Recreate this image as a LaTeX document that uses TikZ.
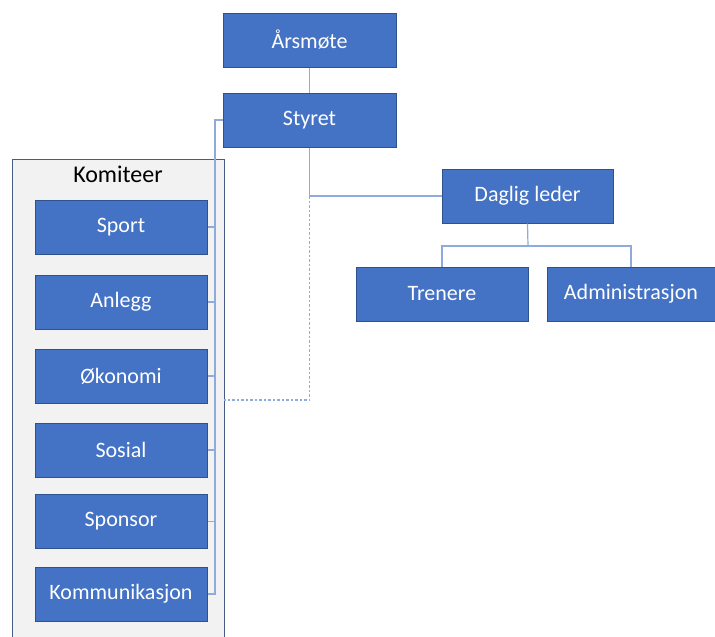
\documentclass[tikz,border=0pt]{standalone}
\usepackage{fontspec}
\setmainfont{Carlito}
\usepackage{xcolor}
\usepackage{tikz}
\definecolor{orgblue}{RGB}{68,114,196}
\definecolor{orgedge}{RGB}{47,82,143}
\definecolor{orglink}{RGB}{143,170,220}
\definecolor{framegray}{RGB}{242,242,242}
\definecolor{frameedge}{RGB}{72,92,130}

\begin{document}
\begin{tikzpicture}[x=1pt, y=-1pt,
    orgbox/.style={draw=orgedge, fill=orgblue, text=white, line width=1pt,
        minimum width=172pt, minimum height=54pt, inner sep=0pt,
        font=\fontsize{22}{26}\selectfont},
    link/.style={draw=orglink, line width=1.2pt},
    dashlink/.style={link, dash pattern=on 2.5pt off 2pt}]
    \clip (0,0) rectangle (715,637);
    % committee frame
    \node[draw=frameedge, fill=framegray, line width=1pt, minimum width=212pt,
        minimum height=491pt, inner sep=0pt] (komiteer) at (118,404.5) {};
    \node[font=\fontsize{24}{28}\selectfont, below=4pt] (komlabel) at (komiteer.north) {Komiteer};
    % top of the organisation
    \node[orgbox, minimum width=173pt] (aarsmote) at (309.5,40) {Årsmøte};
    \node[orgbox, minimum width=173pt] (styret) at (309.5,120) {Styret};
    \node[orgbox, minimum width=171pt] (daglig) at (527.5,196) {Daglig leder};
    \node[orgbox] (trenere) at (442,294) {Trenere};
    \node[orgbox, minimum width=168pt] (admin) at (631,294) {Administrasjon};
    % committees
    \foreach \name/\label/\y in {sport/Sport/227, anlegg/Anlegg/302, okonomi/Økonomi/376,
        sosial/Sosial/450, sponsor/Sponsor/521.5, kommunikasjon/Kommunikasjon/594}
        \node[orgbox] (\name) at (121,\y) {\label};
    % connectors
    \coordinate (spinetop) at (215,120);
    \coordinate (dagligfork) at (528,246);
    \coordinate (okonomilink) at (224,400);
    \draw[link] (aarsmote.south) -- (styret.north);
    \draw[link] (styret.west) -- (spinetop) -- (spinetop |- kommunikasjon.east) -- (kommunikasjon.east);
    \foreach \name in {sport, anlegg, okonomi, sosial, sponsor}
        \draw[link] (\name.east) -- (spinetop |- \name.east);
    \draw[link] (styret.south) |- (daglig.west);
    \draw[dashlink] (styret.south |- daglig.west) |- (okonomilink);
    \draw[link] (daglig.south) -- (dagligfork);
    \draw[link] (trenere.north) |- (dagligfork) -| (admin.north);
\end{tikzpicture}
\end{document}
